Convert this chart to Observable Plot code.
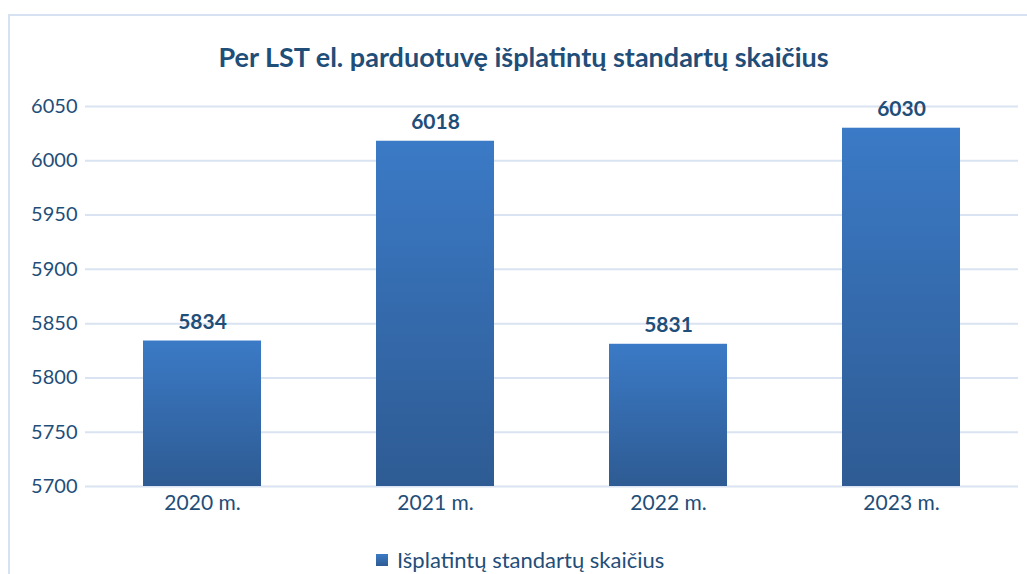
<!DOCTYPE html>
<html><head><meta charset="utf-8">
<script src="https://cdn.jsdelivr.net/npm/d3@7"></script>
<script src="https://cdn.jsdelivr.net/npm/@observablehq/plot@0.6"></script>
<style>
html,body{margin:0;padding:0;background:#fff;width:1027px;height:574px;overflow:hidden;font-family:Lato,"Open Sans",sans-serif;}
#frame{position:absolute;left:8px;top:14px;width:1100px;height:700px;border:2px solid #d6e2f2;box-sizing:border-box;}
#title{position:absolute;left:0;top:40px;width:1047px;text-align:center;font-weight:bold;font-size:27px;color:#1f4e79;}
#chart{position:absolute;left:0;top:80px;}
#legend{position:absolute;left:376px;top:546px;font-size:22px;color:#1f4e79;display:flex;align-items:center;}
#legend .sw{width:12px;height:12px;background:linear-gradient(#3b7ac6,#2e5b93);margin-right:9px;}
</style></head>
<body>
<div id="frame"></div>
<div id="title">Per LST el. parduotuvę išplatintų standartų skaičius</div>
<div id="chart"></div>
<div id="legend"><div class="sw"></div><span>Išplatintų standartų skaičius</span></div>
<script>
const years = ["2020 m.", "2021 m.", "2022 m.", "2023 m."];
const counts = [5834, 6018, 5831, 6030];
const yTicks = [5700, 5750, 5800, 5850, 5900, 5950, 6000, 6050];
const yMin = 5700, yMax = 6050;

const data = years.map((y, i) => ({year: y, value: counts[i], base: yMin}));
const navy = "#1f4e79";

const svg = Plot.plot({
  width: 1027, height: 450,
  marginTop: 26, marginBottom: 44, marginLeft: 85, marginRight: 9,
  style: {fontFamily: "Lato, 'Open Sans', sans-serif", color: navy, background: "transparent"},
  x: {domain: years, paddingInner: 0.494, paddingOuter: 0.247, label: null},
  y: {domain: [yMin, yMax], ticks: yTicks, label: null},
  marks: [
    Plot.gridY(yTicks, {stroke: "#d9e3f1", strokeOpacity: 1, strokeWidth: 2}),
    Plot.barY(data, {x: "year", y1: "base", y2: "value", fill: "url(#barGrad)"}),
    Plot.text(data, {x: "year", y: "value", text: d => String(d.value), dy: -19, fontWeight: "bold", fontSize: 21, fill: navy}),
    Plot.axisY(yTicks, {tickSize: 0, tickPadding: 8, fontSize: 20, fill: navy, tickFormat: d => String(d)}),
    Plot.axisX({tickSize: 0, tickPadding: 9, fontSize: 21, fill: navy})
  ]
});
const ns = "http://www.w3.org/2000/svg";
const defs = document.createElementNS(ns, "defs");
defs.innerHTML = '<linearGradient id="barGrad" x1="0" y1="0" x2="0" y2="1"><stop offset="0" stop-color="#3b7ac6"/><stop offset="1" stop-color="#2e5b93"/></linearGradient>';
svg.insertBefore(defs, svg.firstChild);
document.getElementById("chart").appendChild(svg);
</script>
</body></html>
